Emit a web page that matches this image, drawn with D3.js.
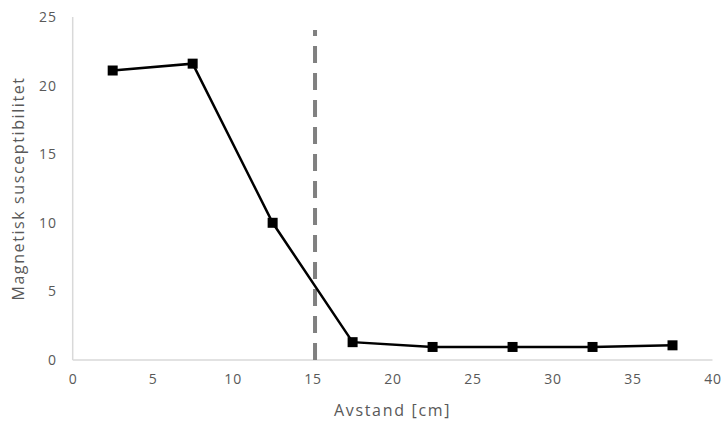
<!DOCTYPE html>
<html><head><meta charset="utf-8">
<script src="https://cdn.jsdelivr.net/npm/d3@7"></script>
<style>body{margin:0;background:#fff}svg{display:block}text{font-family:"Open Sans",Lato,sans-serif;fill:#595959}</style>
</head><body>
<svg id="c" width="723" height="428"></svg>
<script>
const distance = [2.5, 7.5, 12.5, 17.5, 22.5, 27.5, 32.5, 37.5];
const susceptibility = [21.1, 21.6, 10.0, 1.3, 0.95, 0.95, 0.95, 1.07];
const xTicks = [0, 5, 10, 15, 20, 25, 30, 35, 40];
const yTicks = [0, 5, 10, 15, 20, 25];
const markerX = [15.15];
const markerYRange = [0, 24.05];
const xTitle = "Avstand [cm]";
const yTitle = "Magnetisk susceptibilitet";

const svg = d3.select("#c");
const x = d3.scaleLinear().domain([0, 40]).range([72.7, 712.5]);
const y = d3.scaleLinear().domain([0, 25]).range([360, 17]);

svg.append("line").attr("x1", x(0)).attr("x2", x(40)).attr("y1", y(0)).attr("y2", y(0))
  .attr("stroke", "#d9d9d9").attr("stroke-width", 1.5);
svg.append("line").attr("x1", x(0)).attr("x2", x(0)).attr("y1", y(0)).attr("y2", y(25))
  .attr("stroke", "#d9d9d9").attr("stroke-width", 1.5);

const xa = svg.append("g").attr("transform", `translate(0,${y(0)})`)
  .call(d3.axisBottom(x).tickValues(xTicks).tickSize(0).tickPadding(14));
xa.select(".domain").remove();
xa.selectAll("text").style("font-size", "14px").style("letter-spacing", "0.8px")
  .attr("fill", "#595959").attr("font-family", "Open Sans");

const ya = svg.append("g").attr("transform", `translate(${x(0)},0)`)
  .call(d3.axisLeft(y).tickValues(yTicks).tickSize(0).tickPadding(16));
ya.select(".domain").remove();
ya.selectAll("text").style("font-size", "14px").style("letter-spacing", "0.8px")
  .attr("fill", "#595959").attr("font-family", "Open Sans");

svg.append("text").attr("x", (x(0) + x(40)) / 2).attr("y", 416).attr("text-anchor", "middle")
  .style("font-size", "16px").style("letter-spacing", "1.7px").text(xTitle);
svg.append("text").attr("transform", `translate(24,${(y(0) + y(25)) / 2}) rotate(-90)`).attr("text-anchor", "middle")
  .style("font-size", "16px").style("letter-spacing", "1.6px").text(yTitle);

svg.selectAll(".vline").data(markerX).join("line")
  .attr("x1", d => x(d)).attr("x2", d => x(d))
  .attr("y1", y(markerYRange[0])).attr("y2", y(markerYRange[1]))
  .attr("stroke", "#808080").attr("stroke-width", 4).attr("stroke-dasharray", "17,10");

const pts = distance.map((d, i) => [d, susceptibility[i]]);
svg.append("path").datum(pts)
  .attr("d", d3.line().x(d => x(d[0])).y(d => y(d[1])))
  .attr("fill", "none").attr("stroke", "#000").attr("stroke-width", 2.5);
svg.selectAll(".pt").data(pts).join("rect")
  .attr("x", d => x(d[0]) - 5).attr("y", d => y(d[1]) - 5)
  .attr("width", 10).attr("height", 10).attr("fill", "#000");
</script>
</body></html>
